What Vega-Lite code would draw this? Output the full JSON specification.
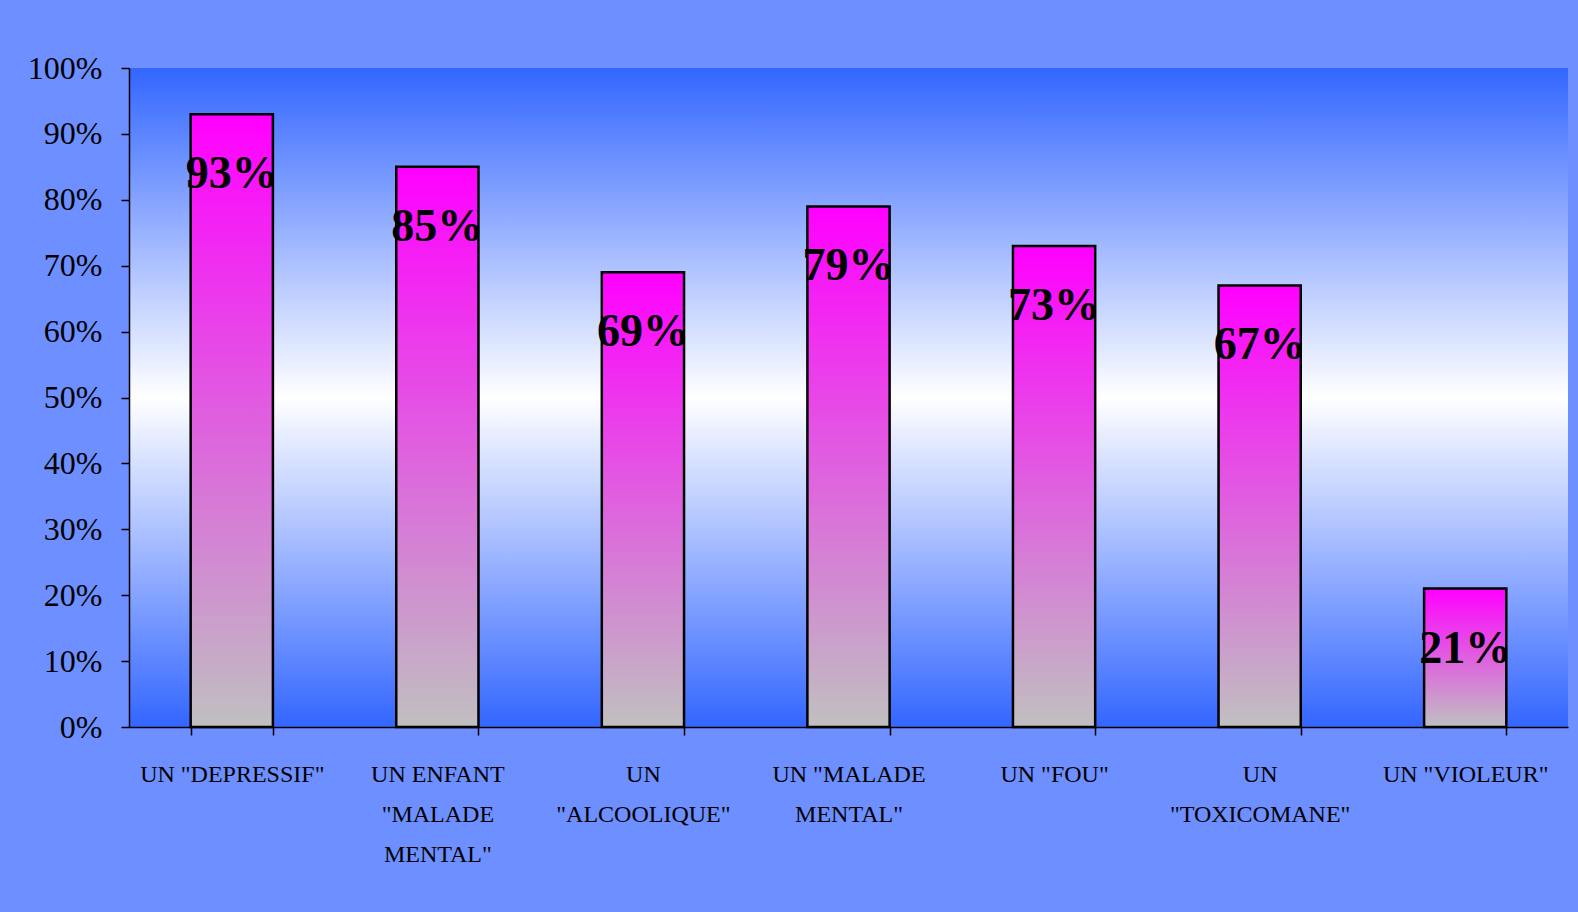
{
  "$schema": "https://vega.github.io/schema/vega-lite/v6.json",
  "autosize": {"type": "none"},
  "width": 1439,
  "height": 659,
  "padding": {"left": 129, "top": 68, "right": 10, "bottom": 185},
  "background": "#6d8fff",
  "view": {
    "fill": {
      "gradient": "linear",
      "x1": 0, "y1": 0, "x2": 0, "y2": 1,
      "stops": [
        {"offset": 0, "color": "#3366ff"},
        {"offset": 0.5, "color": "#ffffff"},
        {"offset": 1, "color": "#3366ff"}
      ]
    },
    "stroke": null
  },
  "data": {
    "values": [
      {"category": "UN \"DEPRESSIF\"", "value": 0.93},
      {"category": "UN ENFANT \"MALADE MENTAL\"", "value": 0.85},
      {"category": "UN \"ALCOOLIQUE\"", "value": 0.69},
      {"category": "UN \"MALADE MENTAL\"", "value": 0.79},
      {"category": "UN \"FOU\"", "value": 0.73},
      {"category": "UN \"TOXICOMANE\"", "value": 0.67},
      {"category": "UN \"VIOLEUR\"", "value": 0.21}
    ]
  },
  "encoding": {
    "x": {
      "field": "category",
      "type": "nominal",
      "sort": null,
      "scale": {"paddingInner": 0.6, "paddingOuter": 0.3},
      "axis": {
        "title": null,
        "labelAngle": 0,
        "labelFont": "Liberation Serif",
        "labelFontSize": 24,
        "labelColor": "#000000",
        "labelLineHeight": 40,
        "labelPadding": 27,
        "labelBaseline": "top",
        "labelLimit": 0,
        "labelOverlap": false,
        "tickBand": "extent",
        "tickSize": 8,
        "tickColor": "#000000",
        "tickWidth": 1.5,
        "domainColor": "#000000",
        "domainWidth": 1.5,
        "labelExpr": "indexof(datum.label, 'ENFANT') >= 0 ? ['UN ENFANT', '\"MALADE', 'MENTAL\"'] : indexof(datum.label, 'ALCOOLIQUE') >= 0 ? ['UN', '\"ALCOOLIQUE\"'] : indexof(datum.label, 'MALADE') >= 0 ? ['UN \"MALADE', 'MENTAL\"'] : indexof(datum.label, 'TOXICOMANE') >= 0 ? ['UN', '\"TOXICOMANE\"'] : datum.label"
      }
    }
  },
  "layer": [
    {
      "mark": {
        "type": "bar",
        "stroke": "#000000",
        "strokeWidth": 2.5,
        "fill": {
          "gradient": "linear",
          "x1": 0, "y1": 0, "x2": 0, "y2": 1,
          "stops": [
            {"offset": 0, "color": "#ff00ff"},
            {"offset": 1, "color": "#c0c0c0"}
          ]
        }
      },
      "encoding": {
        "y": {
          "field": "value",
          "type": "quantitative",
          "scale": {"domain": [0, 1], "nice": false},
          "axis": {
            "title": null,
            "format": ".0%",
            "values": [0, 0.1, 0.2, 0.3, 0.4, 0.5, 0.6, 0.7, 0.8, 0.9, 1],
            "grid": false,
            "labelFont": "Liberation Serif",
            "labelFontSize": 32,
            "labelColor": "#000000",
            "labelPadding": 19,
            "tickSize": 8,
            "tickColor": "#000000",
            "tickWidth": 1.5,
            "domainColor": "#000000",
            "domainWidth": 1.5
          }
        }
      }
    },
    {
      "mark": {
        "type": "text",
        "font": "Liberation Serif",
        "fontWeight": "bold",
        "fontSize": 46,
        "color": "#000000",
        "baseline": "middle",
        "align": "center",
        "dy": 60
      },
      "encoding": {
        "y": {"field": "value", "type": "quantitative"},
        "text": {"field": "value", "type": "quantitative", "format": ".0%"}
      }
    }
  ]
}
